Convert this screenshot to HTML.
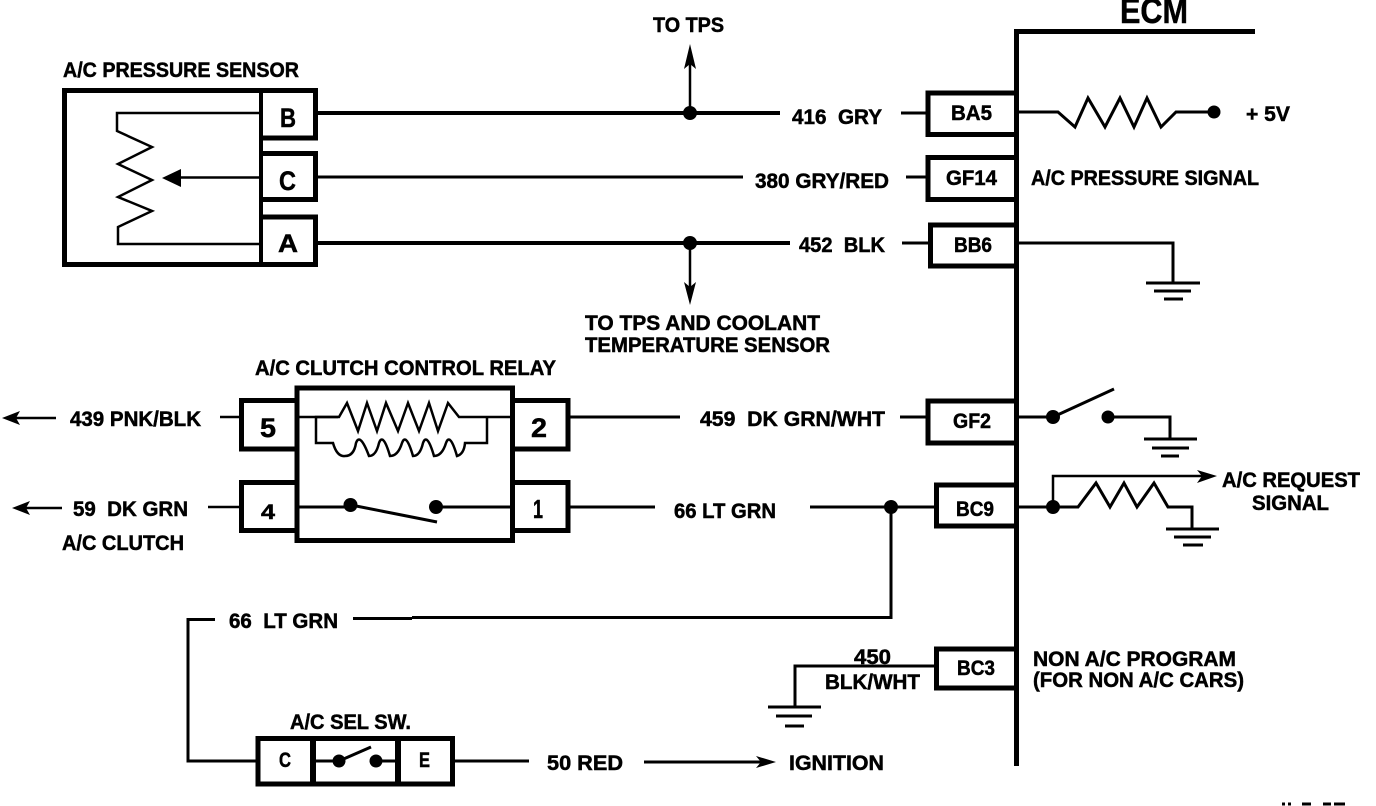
<!DOCTYPE html>
<html>
<head>
<meta charset="utf-8">
<title>A/C Wiring Diagram</title>
<style>
html,body{margin:0;padding:0;background:#fff;width:1376px;height:806px;overflow:hidden}
svg{display:block}
text{font-family:"Liberation Sans",sans-serif;font-weight:bold;fill:#000;font-size:21px;stroke:#000;stroke-width:.5px}
.l{fill:none;stroke:#000;stroke-width:3;stroke-linejoin:miter}
.h{fill:none;stroke:#000;stroke-width:4;stroke-linejoin:miter}
.b{fill:none;stroke:#000;stroke-width:5;stroke-linejoin:miter}
.t{fill:none;stroke:#000;stroke-width:2.5;stroke-linejoin:miter}
</style>
</head>
<body>
<svg width="1376" height="806" viewBox="0 0 1376 806" xmlns="http://www.w3.org/2000/svg">
<!-- ECM spine -->
<path class="b" d="M1255 31.5H1016.5V766"/>
<text x="1120" y="23" textLength="68" lengthAdjust="spacingAndGlyphs" style="font-size:35px">ECM</text>

<!-- Sensor -->
<path class="b" d="M261 90.5H64.5V264.5H261"/>
<path class="b" d="M261 90.5H315.5V138H261"/>
<path class="b" d="M261 153.5H315.5V199.5H261"/>
<path class="b" d="M261 217H315.5V264.5H261"/>
<path class="b" d="M261 88V267" style="stroke-width:4"/>
<path class="t" d="M259 113H117V131L152 147L118 164L152 180L118 197L152 211L118 227V244H259"/>
<path class="t" d="M259 177.5H178"/>
<polygon points="162,178 181,169 181,187"/>
<text x="63" y="77" textLength="236" lengthAdjust="spacingAndGlyphs">A/C PRESSURE SENSOR</text>
<text x="280" y="127" textLength="16" lengthAdjust="spacingAndGlyphs" style="font-size:27px">B</text>
<text x="279" y="190" textLength="17" lengthAdjust="spacingAndGlyphs" style="font-size:27px">C</text>
<text x="278" y="252" textLength="20" lengthAdjust="spacingAndGlyphs" style="font-size:25px">A</text>

<!-- Top wires -->
<path class="h" d="M318 113H780"/>
<path class="l" d="M901 113H926"/>
<path class="l" d="M318 177H743M906 177H926"/>
<path class="h" d="M318 243H790"/>
<path class="l" d="M902 243H929"/>
<circle cx="690" cy="113" r="7"/>
<circle cx="690" cy="243" r="7"/>
<path class="l" d="M690 113V60" style="stroke-width:2.5"/>
<polygon points="690,44 696,69 690,64 684,69"/>
<path class="l" d="M690 243V290" style="stroke-width:2.5"/>
<polygon points="690,305 684,282 690,287 696,282"/>
<text x="653" y="32" textLength="71" lengthAdjust="spacingAndGlyphs">TO TPS</text>
<text x="792" y="124" textLength="90" lengthAdjust="spacingAndGlyphs">416&#160;&#160;GRY</text>
<text x="755" y="188" textLength="134" lengthAdjust="spacingAndGlyphs">380 GRY/RED</text>
<text x="799" y="252" textLength="86" lengthAdjust="spacingAndGlyphs">452&#160;&#160;BLK</text>
<text x="585" y="330" textLength="235" lengthAdjust="spacingAndGlyphs">TO TPS AND COOLANT</text>
<text x="585" y="352" textLength="245" lengthAdjust="spacingAndGlyphs">TEMPERATURE SENSOR</text>

<!-- ECM pins upper -->
<path class="b" d="M1016 93H928V134.5H1016"/>
<path class="b" d="M1016 157.5H928V199.5H1016"/>
<path class="b" d="M1016 225H930.5V266H1016"/>
<text x="951" y="120" textLength="41" lengthAdjust="spacingAndGlyphs">BA5</text>
<text x="946" y="185" textLength="51" lengthAdjust="spacingAndGlyphs">GF14</text>
<text x="954" y="252" textLength="38" lengthAdjust="spacingAndGlyphs">BB6</text>
<path class="l" d="M1019 112H1058L1075 127L1088 98L1105 127L1120 98L1134 127L1147 98L1161 127L1176 112H1214"/>
<circle cx="1214" cy="112" r="6.5"/>
<text x="1246" y="121" textLength="44" lengthAdjust="spacingAndGlyphs">+ 5V</text>
<text x="1031" y="185" textLength="228" lengthAdjust="spacingAndGlyphs">A/C PRESSURE SIGNAL</text>
<path class="l" d="M1019 243H1173V283"/>
<path class="l" d="M1146 283H1200M1154 291H1191M1164 299H1183"/>

<!-- Relay -->
<rect class="b" x="297" y="388" width="215.500" height="152.500"/>
<path class="b" d="M297 400.500H241.500V449H297"/>
<path class="b" d="M297 482.500H241.500V530.500H297"/>
<path class="b" d="M512.500 400.500H568V449H512.500"/>
<path class="b" d="M512.500 482.500H568V530.500H512.500"/>
<text x="255" y="375" textLength="301" lengthAdjust="spacingAndGlyphs">A/C CLUTCH CONTROL RELAY</text>
<text x="260" y="437" textLength="16" lengthAdjust="spacingAndGlyphs" style="font-size:27px">5</text>
<text x="531" y="437" textLength="16" lengthAdjust="spacingAndGlyphs" style="font-size:27px">2</text>
<text x="261" y="519" textLength="14" lengthAdjust="spacingAndGlyphs">4</text>
<text x="533" y="518" textLength="10" lengthAdjust="spacingAndGlyphs" style="font-size:26px">1</text>
<path class="t" d="M297 417H339L347 403L358 431L367 403L377 431L386 403L398 431L408 403L419 431L429 403L438 431L448 403L459 417H512"/>
<path class="t" d="M338 417H316V443H333Q337 457 345 456Q354 456 356 443Q360 432 369 456Q376 456 379 443Q383 432 390 456Q398 456 402 443Q406 432 413 456Q420 456 423 443Q427 432 434 456Q442 456 446 443Q450 432 457 456Q464 454 465 443H487V417"/>
<circle cx="350.500" cy="505" r="7"/>
<circle cx="436" cy="507" r="7"/>
<path class="l" d="M297 507H345M436 507H512"/>
<path class="l" d="M351 505L437 522"/>

<!-- Left of relay -->
<path class="t" d="M220 417H240"/>
<path class="t" d="M208 507H240"/>
<path class="t" d="M15 418H56"/>
<polygon points="2,418 20,411 16,418 20,425"/>
<path class="t" d="M25 508H62"/>
<polygon points="12,508 30,501 26,508 30,515"/>
<text x="70" y="426" textLength="131" lengthAdjust="spacingAndGlyphs">439 PNK/BLK</text>
<text x="73" y="516" textLength="115" lengthAdjust="spacingAndGlyphs">59&#160;&#160;DK GRN</text>
<text x="62" y="550" textLength="122" lengthAdjust="spacingAndGlyphs">A/C CLUTCH</text>

<!-- Right of relay -->
<path class="l" d="M570 417H680M900 417H926"/>
<path class="l" d="M570 507H655M810 507H934"/>
<text x="700" y="426" textLength="185" lengthAdjust="spacingAndGlyphs">459&#160;&#160;DK GRN/WHT</text>
<text x="674" y="518" textLength="102" lengthAdjust="spacingAndGlyphs">66 LT GRN</text>
<circle cx="891" cy="507" r="7"/>
<path class="l" d="M891 507V617.500H412"/>
<path class="l" d="M412 618.500H353"/>
<path class="l" d="M215 619.500H188V761H256"/>
<text x="229" y="628" textLength="109" lengthAdjust="spacingAndGlyphs">66&#160;&#160;LT GRN</text>

<!-- ECM lower pins -->
<path class="b" d="M1016 401H928V443H1016"/>
<path class="b" d="M1016 485H936.500V526H1016"/>
<path class="b" d="M1016 649H936.500V688H1016"/>
<text x="953" y="428" textLength="38" lengthAdjust="spacingAndGlyphs">GF2</text>
<text x="956" y="516" textLength="38" lengthAdjust="spacingAndGlyphs">BC9</text>
<text x="957" y="675" textLength="38" lengthAdjust="spacingAndGlyphs">BC3</text>
<path class="l" d="M1019 417H1053"/>
<circle cx="1053" cy="417" r="7"/>
<path class="l" d="M1053 417L1114 389"/>
<circle cx="1108" cy="417" r="6.500"/>
<path class="l" d="M1108 417H1170V439"/>
<path class="l" d="M1144 439H1197M1152 448H1189M1161 456H1179"/>
<path class="l" d="M1019 507H1053"/>
<circle cx="1053" cy="507" r="7"/>
<path class="l" d="M1053 507V476H1205" style="stroke-width:2.5"/>
<polygon points="1217,476 1197,470 1202,476 1197,483"/>
<path class="l" d="M1053 507H1078L1096 483L1110 507L1124 483L1137 507L1154 483L1168 507H1192V529"/>
<path class="l" d="M1166 529H1219M1174 537H1211M1183 545H1203"/>
<text x="1222" y="487" textLength="138" lengthAdjust="spacingAndGlyphs">A/C REQUEST</text>
<text x="1252" y="510" textLength="77" lengthAdjust="spacingAndGlyphs">SIGNAL</text>

<!-- BC3 -->
<path class="l" d="M936 666H795V707"/>
<path class="l" d="M768 707H821M776 716H812M785 726H804"/>
<text x="854" y="664" textLength="37" lengthAdjust="spacingAndGlyphs">450</text>
<text x="825" y="689" textLength="95" lengthAdjust="spacingAndGlyphs">BLK/WHT</text>
<text x="1033" y="666" textLength="203" lengthAdjust="spacingAndGlyphs">NON A/C PROGRAM</text>
<text x="1033" y="687" textLength="211" lengthAdjust="spacingAndGlyphs">(FOR NON A/C CARS)</text>

<!-- Selector switch -->
<rect class="b" x="258" y="738.500" width="194.500" height="45.500"/>
<path d="M313 738V786M398 738V784" style="fill:none;stroke:#000;stroke-width:6"/>
<circle cx="339" cy="761" r="6.500"/>
<circle cx="376" cy="761" r="6.500"/>
<path class="l" d="M316 761H339M376 761H396"/>
<path class="l" d="M339 761L371 747"/>
<text x="290" y="729" textLength="121" lengthAdjust="spacingAndGlyphs">A/C SEL SW.</text>
<text x="279" y="767" textLength="12" lengthAdjust="spacingAndGlyphs">C</text>
<text x="419" y="767" textLength="11" lengthAdjust="spacingAndGlyphs">E</text>
<path class="l" d="M455 761H529"/>
<path class="l" d="M644 762H765"/>
<polygon points="776,762 756,756 761,762 756,768"/>
<text x="547" y="770" textLength="76" lengthAdjust="spacingAndGlyphs">50&#160;RED</text>
<text x="789" y="770" textLength="95" lengthAdjust="spacingAndGlyphs">IGNITION</text>

<!-- Clipped marks at the bottom edge -->
<path d="M1282 804H1285M1288 804H1291M1302 804H1311M1323 804H1331M1334 804H1345" style="fill:none;stroke:#000;stroke-width:3"/>
</svg>
</body>
</html>
